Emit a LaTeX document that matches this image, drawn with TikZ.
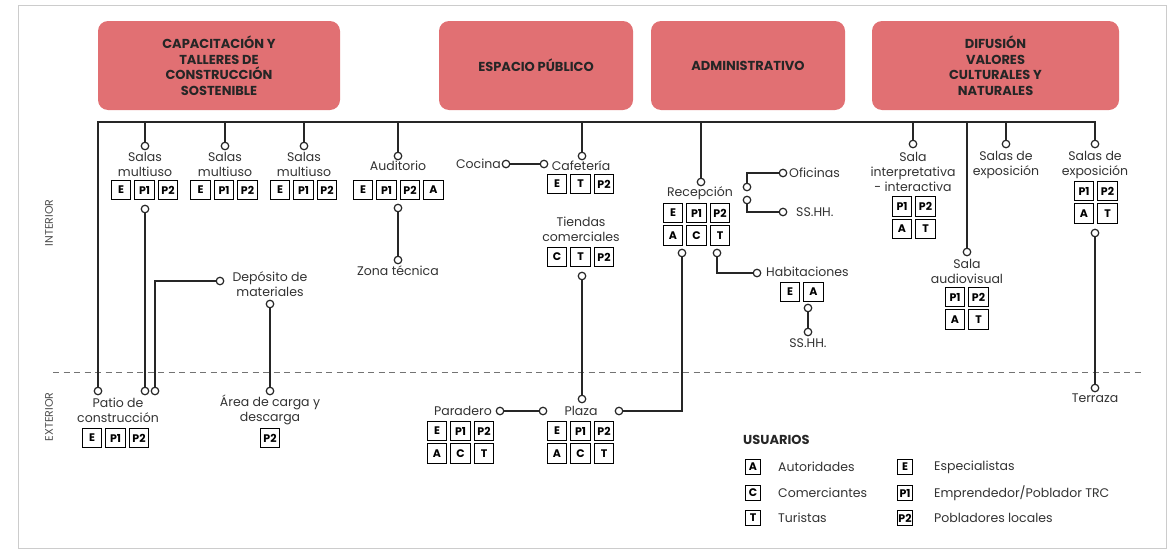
\documentclass[tikz,border=0pt]{standalone}
\usepackage{fontspec}
\setmainfont{Poppins}
\usetikzlibrary{positioning}
\definecolor{areared}{RGB}{225,112,115}
\definecolor{txt}{RGB}{50,50,50}
\tikzset{
  area/.style={fill=areared, rounded corners=10pt, minimum height=89pt, align=center,
    text=black!85, font=\bfseries\fontsize{13}{15.5}\selectfont},
  wire/.style={line width=1.6pt, black!85},
  dot/.style={circle, draw=black!85, fill=white, line width=1.2pt, inner sep=0pt, minimum size=7.5pt},
  lbl/.style={align=center, inner sep=0pt, text=txt, font=\fontsize{12.5}{15}\selectfont},
  usr/.style={draw=black, line width=1.4pt, fill=white, minimum width=19.5pt, minimum height=19.5pt,
    inner sep=0pt, font=\bfseries\fontsize{11}{12}\selectfont},
  leg/.style={usr, minimum width=15pt, minimum height=15pt},
  side/.style={rotate=90, inner sep=0pt, text=black!70, font=\fontsize{11}{12}\selectfont},
}
\begin{document}
\begin{tikzpicture}[x=1pt, y=-1pt]
  \useasboundingbox (0,0) rectangle (1175,549);
  \draw[black!20, line width=1pt] (18,5) rectangle (1166,548);

  % zonas
  \node[side] (inter) at (49,223) {INTERIOR};
  \node[side] (exter) at (49,417) {EXTERIOR};
  \coordinate (dl) at (53,372);
  \coordinate (dr) at (1142,372);
  \draw[black!55, line width=0.9pt, dash pattern=on 6pt off 4.5pt] (dl) -- (dr);

  % areas
  \node[area, minimum width=242pt] (cap) at (219,65.5) {CAPACITACIÓN Y\\TALLERES DE\\CONSTRUCCIÓN\\SOSTENIBLE};
  \node[area, minimum width=194pt] (esp) at (536,65.5) {ESPACIO PÚBLICO};
  \node[area, minimum width=194pt] (adm) at (748,65.5) {ADMINISTRATIVO};
  \node[area, minimum width=247pt] (dif) at (995.5,65.5) {DIFUSIÓN\\VALORES\\CULTURALES Y\\NATURALES};

  % interior
  \node[lbl] (sm1) at (145,164.5) {Salas\\multiuso};
  \node[lbl] (sm2) at (225,164.5) {Salas\\multiuso};
  \node[lbl] (sm3) at (304,164.5) {Salas\\multiuso};
  \node[lbl] (aud) at (398,166) {Auditorio};
  \node[lbl] (zon) at (398,271) {Zona técnica};
  \node[lbl] (dep) at (270,284.5) {Depósito de\\materiales};
  \node[lbl, anchor=east] (coc) at (501,164) {Cocina};
  \node[lbl] (caf) at (581,166) {Cafetería};
  \node[lbl] (tie) at (581,229.5) {Tiendas\\comerciales};
  \node[lbl] (rec) at (700,193) {Recepción};
  \node[lbl, anchor=west] (ofi) at (789,173) {Oficinas};
  \node[lbl, anchor=west] (ss1) at (796,212) {SS.HH.};
  \node[lbl, anchor=west] (hab) at (766,272) {Habitaciones};
  \node[lbl] (ss2) at (808,343) {SS.HH.};
  \node[lbl] (int) at (913,172) {Sala\\interpretativa\\- interactiva};
  \node[lbl] (exp1) at (1006,164.5) {Salas de\\exposición};
  \node[lbl] (exp2) at (1095,164.5) {Salas de\\exposición};
  \node[lbl] (av) at (967,271) {Sala\\audiovisual};

  % exterior
  \node[lbl] (pat) at (118,410) {Patio de\\construcción};
  \node[lbl] (are) at (270,410) {Área de carga y\\descarga};
  \node[lbl, anchor=east] (par) at (492,411) {Paradero};
  \node[lbl] (plz) at (581,411) {Plaza};
  \node[lbl] (ter) at (1095,398) {Terraza};

  % usuarios
  \node[usr] (sm1E) at (121,190) {E};   \node[usr] (sm1P1) at (144.5,190) {P1}; \node[usr] (sm1P2) at (168,190) {P2};
  \node[usr] (sm2E) at (200.5,190) {E}; \node[usr] (sm2P1) at (224,190) {P1};   \node[usr] (sm2P2) at (247.5,190) {P2};
  \node[usr] (sm3E) at (280,190) {E};   \node[usr] (sm3P1) at (303.5,190) {P1}; \node[usr] (sm3P2) at (327,190) {P2};
  \node[usr] (audE) at (363,190) {E};   \node[usr] (audP1) at (386.5,190) {P1}; \node[usr] (audP2) at (410,190) {P2};
  \node[usr] (audA) at (433.5,190) {A};
  \node[usr] (cafE) at (557,184) {E};   \node[usr] (cafT) at (580.5,184) {T};   \node[usr] (cafP2) at (604,184) {P2};
  \node[usr] (tieC) at (557,257) {C};   \node[usr] (tieT) at (580.5,257) {T};   \node[usr] (tieP2) at (604,257) {P2};
  \node[usr] (recE) at (673,213) {E};   \node[usr] (recP1) at (696.5,213) {P1}; \node[usr] (recP2) at (720,213) {P2};
  \node[usr] (recA) at (673,235.5) {A}; \node[usr] (recC) at (696.5,235.5) {C}; \node[usr] (recT) at (720,235.5) {T};
  \node[usr] (habE) at (790,292) {E};   \node[usr] (habA) at (813.5,292) {A};
  \node[usr] (intP1) at (902,206.5) {P1}; \node[usr] (intP2) at (925.5,206.5) {P2};
  \node[usr] (intA) at (902,229) {A};     \node[usr] (intT) at (925.5,229) {T};
  \node[usr] (avP1) at (955,297) {P1};    \node[usr] (avP2) at (978.5,297) {P2};
  \node[usr] (avA) at (955,319.5) {A};    \node[usr] (avT) at (978.5,319.5) {T};
  \node[usr] (exp2P1) at (1084,191) {P1}; \node[usr] (exp2P2) at (1107.5,191) {P2};
  \node[usr] (exp2A) at (1084,213.5) {A}; \node[usr] (exp2T) at (1107.5,213.5) {T};
  \node[usr] (patE) at (92,438) {E};    \node[usr] (patP1) at (115.5,438) {P1}; \node[usr] (patP2) at (139,438) {P2};
  \node[usr] (areP2) at (270,438) {P2};
  \node[usr] (parE) at (437,431) {E};   \node[usr] (parP1) at (460.5,431) {P1}; \node[usr] (parP2) at (484,431) {P2};
  \node[usr] (parA) at (437,453.5) {A}; \node[usr] (parC) at (460.5,453.5) {C}; \node[usr] (parT) at (484,453.5) {T};
  \node[usr] (plzE) at (557,431) {E};   \node[usr] (plzP1) at (580.5,431) {P1}; \node[usr] (plzP2) at (604,431) {P2};
  \node[usr] (plzA) at (557,453.5) {A}; \node[usr] (plzC) at (580.5,453.5) {C}; \node[usr] (plzT) at (604,453.5) {T};

  % puntos
  \node[dot] (sm1d) at (145,146) {};  \node[dot] (sm2d) at (225,146) {};  \node[dot] (sm3d) at (304,146) {};
  \node[dot] (audd) at (398,156) {};  \node[dot] (cafd) at (582,156) {};  \node[dot] (recd) at (701,182) {};
  \node[dot] (intd) at (913,144) {};  \node[dot] (avd) at (967,252) {};   \node[dot] (exp1d) at (1006,144) {};
  \node[dot] (exp2d) at (1095,144) {};
  \node[dot] (sm1b) at (145,209) {};
  \node[dot] (patd) at (98,391) {};   \node[dot] (patd2) at (145,391) {}; \node[dot] (patd3) at (155,391) {};
  \node[dot] (depd) at (220,281) {};  \node[dot] (depb) at (270,304) {};  \node[dot] (aread) at (270,391) {};
  \node[dot] (audb) at (398,208) {};  \node[dot] (zond) at (398,260) {};
  \node[dot] (cocd) at (506,164) {};  \node[dot] (cafl) at (544,164) {};
  \node[dot] (tieb) at (582,276) {};  \node[dot] (plzd) at (582,399) {};
  \node[dot] (parr) at (500,411) {};  \node[dot] (plzl) at (543,411) {};  \node[dot] (plzr) at (619,411) {};
  \node[dot] (recl) at (682,253) {};  \node[dot] (recr) at (717,253) {};
  \node[dot] (habd) at (757,273) {};  \node[dot] (habb) at (808,308) {};  \node[dot] (ssd) at (808,332) {};
  \node[dot] (ofd1) at (747,187) {};  \node[dot] (ofd2) at (747,200) {};
  \node[dot] (ofr) at (783,173) {};   \node[dot] (ssr) at (783,212) {};
  \node[dot] (exp2b) at (1095,233) {}; \node[dot] (terd) at (1095,388) {};

  % conexiones
  \coordinate (b0) at (98,122);
  \coordinate (b1) at (1095,122);
  \draw[wire] (patd) -- (b0) -- (b1) -- (exp2d);
  \draw[wire] (sm1d) -- (sm1d |- b0);
  \draw[wire] (sm2d) -- (sm2d |- b0);
  \draw[wire] (sm3d) -- (sm3d |- b0);
  \draw[wire] (audd) -- (audd |- b0);
  \draw[wire] (cafd) -- (cafd |- b0);
  \draw[wire] (recd) -- (recd |- b0);
  \draw[wire] (intd) -- (intd |- b0);
  \draw[wire] (avd) -- (avd |- b0);
  \draw[wire] (exp1d) -- (exp1d |- b0);
  \draw[wire] (sm1b) -- (patd2);
  \draw[wire] (patd3) |- (depd);
  \draw[wire] (depb) -- (aread);
  \draw[wire] (audb) -- (zond);
  \draw[wire] (cocd) -- (cafl);
  \draw[wire] (tieb) -- (plzd);
  \draw[wire] (parr) -- (plzl);
  \draw[wire] (plzr) -| (recl);
  \draw[wire] (recr) |- (habd);
  \draw[wire] (habb) -- (ssd);
  \draw[wire] (ofd1) |- (ofr);
  \draw[wire] (ofd2) |- (ssr);
  \draw[wire] (exp2b) -- (terd);

  % leyenda
  \node[anchor=west, inner sep=0pt, text=black!85, font=\bfseries\fontsize{13}{14}\selectfont] (usu) at (743,440) {USUARIOS};
  \node[leg] (lgA) at (753,467) {A};  \node[lbl, anchor=west] (lgAt) at (778,467) {Autoridades};
  \node[leg] (lgC) at (753,493) {C};  \node[lbl, anchor=west] (lgCt) at (778,493) {Comerciantes};
  \node[leg] (lgT) at (753,518) {T};  \node[lbl, anchor=west] (lgTt) at (778,518) {Turistas};
  \node[leg] (lgE) at (905,467) {E};  \node[lbl, anchor=west] (lgEt) at (934,467) {Especialistas};
  \node[leg] (lgP1) at (905,493) {P1}; \node[lbl, anchor=west] (lgP1t) at (934,493) {Emprendedor/Poblador TRC};
  \node[leg] (lgP2) at (905,518) {P2}; \node[lbl, anchor=west] (lgP2t) at (934,518) {Pobladores locales};
\end{tikzpicture}
\end{document}
